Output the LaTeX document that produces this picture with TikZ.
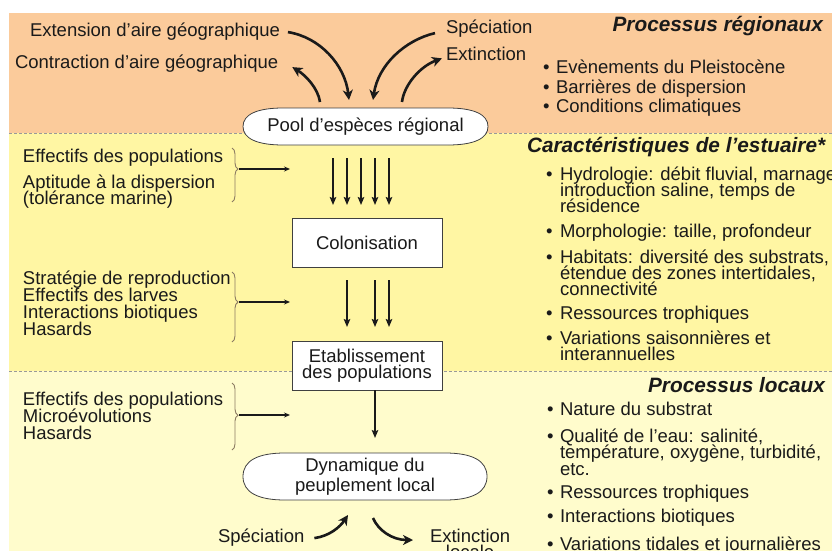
\documentclass[tikz,border=0pt]{standalone}
\usepackage{fontspec}
\setmainfont{Liberation Sans}
\usetikzlibrary{arrows.meta,decorations.pathreplacing,calc}
\definecolor{orangeband}{HTML}{FBCB9B}
\definecolor{yellowband}{HTML}{FFF6A3}
\definecolor{paleband}{HTML}{FFFCCC}
\definecolor{bracecol}{HTML}{8C7B62}
\definecolor{inkcol}{HTML}{1A1A1A}
\newcommand\bodyfnt{\fontsize{18.5pt}{16pt}\selectfont}
\newcommand\headfnt{\fontsize{20.8pt}{22pt}\selectfont\bfseries\itshape}
\newcommand\vlinesL[2]{\vtop{\baselineskip=#1\lineskiplimit=-20pt\relax\halign{##\hfil\cr#2\crcr}}}
\newcommand\vlinesC[2]{\vtop{\baselineskip=#1\lineskiplimit=-20pt\relax\halign{\hfil##\hfil\cr#2\crcr}}}
% #1 node, #2 flat inset, #3 vertical control, #4 horizontal control
\newcommand\lensoutline[4]{%
  \draw[lensline] (#1.west) .. controls ([yshift=#3]#1.west) and ([xshift=#4]#1.north west) .. ([xshift=#2]#1.north west)
    -- ([xshift=-#2]#1.north east) .. controls ([xshift=-#4]#1.north east) and ([yshift=#3]#1.east) .. (#1.east)
    .. controls ([yshift=-#3]#1.east) and ([xshift=-#4]#1.south east) .. ([xshift=-#2]#1.south east)
    -- ([xshift=#2]#1.south west) .. controls ([xshift=#4]#1.south west) and ([yshift=-#3]#1.west) .. (#1.west) -- cycle;}
\pgfdeclarelayer{bands}
\pgfdeclarelayer{shapes}
\pgfsetlayers{bands,shapes,main}
\begin{document}
\begin{tikzpicture}[x=1pt,y=-1pt,
  every node/.style={inner sep=0pt,outer sep=0pt,font=\bodyfnt,text=inkcol},
  txt/.style={anchor=base west},
  hd/.style={font=\headfnt},
  boxnode/.style={draw=black!75,fill=white,line width=0.8pt},
  lensline/.style={draw=black!75,fill=white,line width=0.8pt},
  bigarrow/.style={draw=inkcol,line width=2.6pt,-{Stealth[length=10pt,width=10pt,inset=3pt]}},
  flowarrow/.style={draw=inkcol,line width=1.8pt,-{Stealth[length=8pt,width=6.5pt,inset=1.5pt]}},
  thinarrow/.style={draw=inkcol,line width=1.1pt,-{Stealth[length=6pt,width=5pt]}},
  bracestyle/.style={draw=bracecol,line width=0.9pt,decorate},
  sepline/.style={draw=gray!80,line width=0.8pt,dash pattern=on 3pt off 2pt}]
\useasboundingbox (0,0) rectangle (832,551);
\begin{pgfonlayer}{bands}
  \fill[orangeband] (9,13) rectangle (832,133);
  \fill[yellowband] (9,133) rectangle (832,371);
  \fill[paleband] (9,371) rectangle (832,551);
  \draw[sepline] (9,133) -- (832,133);
  \draw[sepline] (9,371) -- (832,371);
\end{pgfonlayer}
\clip (0,0) rectangle (832,551);

% ---------- top band ----------
\node[txt] (ext) at (30,37) {Extension d’aire géographique};
\node[txt] (con) at (15,68) {Contraction d’aire géographique};
\node[txt] (spec) at (446,34) {Spéciation};
\node[txt] (extn) at (446,60) {Extinction};
\node[hd,anchor=base east] (hReg) at (823,32) {Processus régionaux};
\node[txt] (rb1) at (543,74) {•};
\node[txt] (rt1) at (556,74) {Evènements du Pleistocène};
\node[txt] (rb2) at (543,93) {•};
\node[txt] (rt2) at (556,93) {Barrières de dispersion};
\node[txt] (rb3) at (543,112) {•};
\node[txt] (rt3) at (556,112) {Conditions climatiques};
\node[minimum width=245pt,minimum height=37pt] (pool) at (365.5,126.5) {Pool d’espèces régional};

% ---------- middle band ----------
\node[txt] (eff1) at (23,162) {Effectifs des populations};
\node[txt] (apt) at (23,188) {\vlinesL{16pt}{Aptitude à la dispersion\cr (tolérance marine)}};
\node[txt] (strat) at (23,284) {\vlinesL{17pt}{Stratégie de reproduction\cr Effectifs des larves\cr Interactions biotiques\cr Hasards}};
\node[boxnode,minimum width=150pt,minimum height=49pt] (colo) at (367,242.5) {Colonisation};
\node[boxnode,minimum width=150pt,minimum height=49pt] (etab) at (367,365.5) {\vlinesC{16pt}{Etablissement\cr des populations}};
\node[hd,anchor=base west] (hCar) at (527,152) {Caractéristiques de l’estuaire*};
\node[txt] (cb1) at (546,180) {•};
\node[txt] (ct1) at (560,180) {\vlinesL{16pt}{Hydrologie: débit fluvial, marnage\cr introduction saline, temps de\cr résidence}};
\node[txt] (cb2) at (546,237) {•};
\node[txt] (ct2) at (560,237) {Morphologie: taille, profondeur};
\node[txt] (cb3) at (546,263) {•};
\node[txt] (ct3) at (560,263) {\vlinesL{16pt}{Habitats: diversité des substrats,\cr étendue des zones intertidales,\cr connectivité}};
\node[txt] (cb4) at (546,319) {•};
\node[txt] (ct4) at (560,319) {Ressources trophiques};
\node[txt] (cb5) at (546,344) {•};
\node[txt] (ct5) at (560,344) {\vlinesL{16pt}{Variations saisonnières et\cr interannuelles}};

% ---------- bottom band ----------
\node[txt] (loc) at (23,405) {\vlinesL{17pt}{Effectifs des populations\cr Microévolutions\cr Hasards}};
\node[minimum width=244pt,minimum height=47pt] (dyn) at (365,476.5) {\vlinesC{20pt}{Dynamique du\cr peuplement local}};
\node[txt] (specB) at (218,542) {Spéciation};
\node[txt] (extB) at (430,542) {\vlinesC{16pt}{Extinction\cr locale}};
\node[hd,anchor=base east] (hLoc) at (825,392) {Processus locaux};
\node[txt] (lb1) at (547,415) {•};
\node[txt] (lt1) at (560,415) {Nature du substrat};
\node[txt] (lb2) at (547,442) {•};
\node[txt] (lt2) at (560,442) {\vlinesL{16.5pt}{Qualité de l’eau: salinité,\cr température, oxygène, turbidité,\cr etc.}};
\node[txt] (lb3) at (547,498) {•};
\node[txt] (lt3) at (560,498) {Ressources trophiques};
\node[txt] (lb4) at (547,522) {•};
\node[txt] (lt4) at (560,522) {Interactions biotiques};
\node[txt] (lb5) at (547,550) {•};
\node[txt] (lt5) at (560,550) {Variations tidales et journalières};

% ---------- lens outlines ----------
\begin{pgfonlayer}{shapes}
  \lensoutline{pool}{40pt}{12pt}{14pt}
  \lensoutline{dyn}{42pt}{16pt}{15pt}
\end{pgfonlayer}

% ---------- curved arrows (regional) ----------
\draw[bigarrow] ([xshift=8pt]ext.east) .. controls +(32,5) and +(-4,-35) .. ($(pool.north)+(-16.5,-8)$);
\draw[bigarrow] ($(pool.north)+(-45.5,-6)$) .. controls +(-2,-14) and +(13,8) .. ($(con.east)+(14,4)$);
\draw[bigarrow] ($(spec.west)+(-11,4)$) .. controls +(-30,7) and +(5,-35) .. ($(pool.north)+(7.5,-8)$);
\draw[bigarrow] ($(pool.north)+(36.5,-6)$) .. controls +(2,-17) and +(-22,8) .. ($(extn.west)+(-4,5)$);

% ---------- flow arrows ----------
\foreach \dx in {-34,-20,-6,8,22}
  \draw[flowarrow] ($(colo.north)+(\dx,-60)$) -- ($(colo.north)+(\dx,-13)$);
\foreach \dx in {-20,8,22}
  \draw[flowarrow] ($(colo.south)+(\dx,13)$) -- ($(etab.north)+(\dx,-14)$);
\draw[flowarrow] ($(etab.south)+(8,0)$) -- ($(dyn.north)+(10,-15)$);

% ---------- braces ----------
\coordinate (br1t) at (232,148); \coordinate (br1b) at (232,202);
\coordinate (br1tip) at (239,169); \coordinate (br1end) at (290,169);
\coordinate (br2t) at (232,272); \coordinate (br2b) at (232,342);
\coordinate (br2tip) at (239,302); \coordinate (br2end) at (290,302);
\coordinate (br3t) at (232,383); \coordinate (br3b) at (232,450);
\coordinate (br3tip) at (239,415); \coordinate (br3end) at (290,415);
\draw[bracestyle,decoration={brace,amplitude=6pt,aspect=0.39}] (br1t) -- (br1b);
\draw[bracestyle,decoration={brace,amplitude=6pt,aspect=0.43}] (br2t) -- (br2b);
\draw[bracestyle,decoration={brace,amplitude=6pt,aspect=0.48}] (br3t) -- (br3b);
\draw[thinarrow] (br1tip) -- (br1end);
\draw[thinarrow] (br2tip) -- (br2end);
\draw[thinarrow] (br3tip) -- (br3end);

% ---------- local curved arrows ----------
\draw[bigarrow] ($(specB.east)+(10,1)$) .. controls +(15,-2) and +(-8,12) .. ($(dyn.south)+(-17,15)$);
\draw[bigarrow] ($(dyn.south)+(8,18)$) .. controls +(5,12) and +(-21,0) .. ($(extB.base west)+(-17,-2)$);
\end{tikzpicture}
\end{document}
